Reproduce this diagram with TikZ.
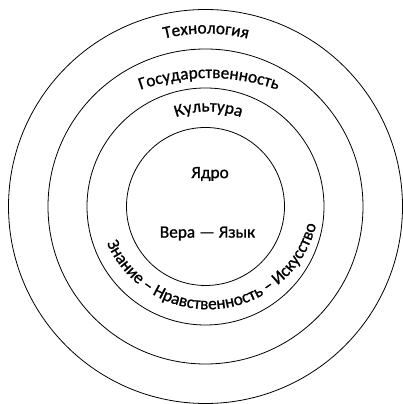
\documentclass[tikz,border=0pt]{standalone}
\usepackage{fontspec}
\setmainfont{Carlito}[FakeBold=0.9]
\usetikzlibrary{decorations.text}
\tikzset{
  ring/.style={draw=black, line width=0.8pt, circle, inner sep=0pt},
  label/.style={font=\fontsize{17.3}{20}\selectfont, inner sep=0pt},
  curvetext/.style={decorate, decoration={text along path, text align=center, text={|\fontsize{17.3}{20}\selectfont|#1}}}
}
\begin{document}
\begin{tikzpicture}[x=1pt,y=1pt]
\useasboundingbox (0,0) rectangle (402,404);
\coordinate (c) at (205.5,197.5);
\node[ring, minimum size=394pt] (outer) at (c) {};
\node[ring, minimum size=315pt] (state) at (c) {};
\node[ring, minimum size=237pt] (culture) at (c) {};
\node[ring, minimum size=158pt] (core) at (c) {};
\node[label] (yadro) at (210,230) {Ядро};
\node[label] (vera) at (207.5,170.5) {Вера — Язык};
% curved labels
\path[curvetext={Технология}] (206,197.5) ++(120:173) arc[start angle=120, end angle=60, radius=173];
\path[curvetext={Государственность}] (209,120) ++(115:206) arc[start angle=115, end angle=65, radius=206];
\path[curvetext={Культура}] (208.5,197.5) ++(135:95) arc[start angle=135, end angle=45, radius=95];
\path[curvetext={Знание – Нравственность – Искусство}] (208.4,205.7) ++(190:111) arc[start angle=190, end angle=360, radius=111];
\end{tikzpicture}
\end{document}
